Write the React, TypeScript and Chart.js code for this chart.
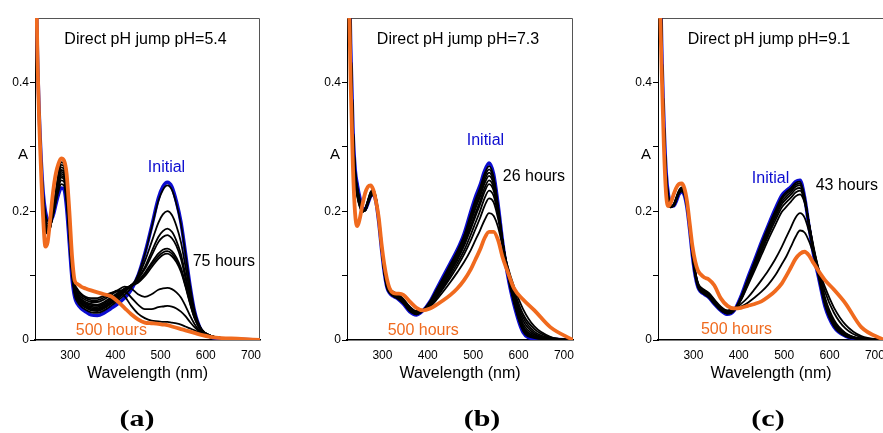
import React, { useEffect, useRef } from 'react';
import { Chart, registerables } from 'chart.js';

Chart.register(...registerables);

// ---------- data ----------
const WAVELENGTHS = [222, 226, 230, 235, 240, 245, 250, 256, 262, 268, 274, 280, 286, 292, 298, 304, 310, 316, 324, 334, 346, 360, 375, 390, 405, 420, 435, 450, 465, 480, 495, 505, 515, 525, 535, 545, 555, 565, 575, 590, 610, 635, 670, 720];
const X_TICKS = [300, 400, 500, 600, 700];
const Y_TICKS = [0, 0.1, 0.2, 0.3, 0.4];
const Y_TICK_LABELS = ['0', '', '0.2', '', '0.4'];

// panel (a) pH 5.4
const A_INITIAL = [0.8, 0.5, 0.38, 0.29, 0.23, 0.2, 0.187, 0.184, 0.193, 0.21, 0.226, 0.236, 0.234, 0.205, 0.15, 0.095, 0.066, 0.056, 0.049, 0.044, 0.039, 0.038, 0.042, 0.049, 0.056, 0.065, 0.078, 0.1, 0.134, 0.176, 0.22, 0.238, 0.245, 0.238, 0.215, 0.183, 0.135, 0.085, 0.045, 0.015, 0.005, 0.002, 0.001, 0];
const A_T1 = [0.8, 0.5, 0.38, 0.288, 0.227, 0.196, 0.185, 0.184, 0.194, 0.213, 0.231, 0.242, 0.24, 0.212, 0.156, 0.1, 0.069, 0.059, 0.052, 0.047, 0.043, 0.042, 0.046, 0.053, 0.061, 0.07, 0.081, 0.101, 0.133, 0.174, 0.216, 0.233, 0.24, 0.233, 0.211, 0.18, 0.134, 0.085, 0.046, 0.017, 0.006, 0.003, 0.001, 0];
const A_T2 = [0.8, 0.5, 0.38, 0.287, 0.224, 0.192, 0.181, 0.182, 0.195, 0.216, 0.236, 0.248, 0.246, 0.218, 0.161, 0.104, 0.072, 0.062, 0.055, 0.05, 0.046, 0.045, 0.049, 0.056, 0.064, 0.074, 0.084, 0.098, 0.122, 0.152, 0.182, 0.195, 0.2, 0.194, 0.177, 0.152, 0.114, 0.075, 0.042, 0.017, 0.007, 0.003, 0.001, 0];
const A_T3 = [0.8, 0.5, 0.38, 0.286, 0.222, 0.189, 0.178, 0.18, 0.195, 0.218, 0.24, 0.252, 0.25, 0.222, 0.164, 0.107, 0.074, 0.064, 0.057, 0.052, 0.048, 0.047, 0.051, 0.058, 0.066, 0.076, 0.085, 0.096, 0.113, 0.137, 0.16, 0.169, 0.173, 0.168, 0.154, 0.133, 0.101, 0.068, 0.04, 0.017, 0.007, 0.003, 0.001, 0];
const A_T4 = [0.8, 0.5, 0.38, 0.285, 0.221, 0.187, 0.176, 0.179, 0.196, 0.22, 0.243, 0.255, 0.253, 0.225, 0.166, 0.109, 0.076, 0.065, 0.058, 0.053, 0.05, 0.049, 0.053, 0.06, 0.068, 0.077, 0.085, 0.095, 0.11, 0.131, 0.152, 0.16, 0.163, 0.158, 0.146, 0.126, 0.096, 0.065, 0.039, 0.016, 0.007, 0.003, 0.001, 0];
const A_T5 = [0.8, 0.5, 0.38, 0.284, 0.219, 0.184, 0.174, 0.178, 0.196, 0.221, 0.245, 0.258, 0.256, 0.228, 0.169, 0.111, 0.078, 0.067, 0.06, 0.055, 0.052, 0.051, 0.055, 0.062, 0.07, 0.078, 0.085, 0.092, 0.104, 0.12, 0.134, 0.14, 0.142, 0.138, 0.128, 0.112, 0.087, 0.06, 0.036, 0.016, 0.007, 0.003, 0.001, 0];
const A_T6 = [0.8, 0.5, 0.38, 0.284, 0.218, 0.182, 0.172, 0.177, 0.197, 0.223, 0.248, 0.261, 0.259, 0.231, 0.172, 0.113, 0.08, 0.069, 0.062, 0.057, 0.054, 0.053, 0.057, 0.064, 0.071, 0.079, 0.085, 0.091, 0.102, 0.117, 0.13, 0.136, 0.138, 0.134, 0.124, 0.109, 0.085, 0.058, 0.035, 0.015, 0.007, 0.003, 0.001, 0];
const A_T7 = [0.8, 0.5, 0.38, 0.283, 0.216, 0.18, 0.17, 0.176, 0.197, 0.224, 0.25, 0.264, 0.262, 0.234, 0.175, 0.115, 0.082, 0.071, 0.064, 0.059, 0.056, 0.055, 0.059, 0.066, 0.073, 0.08, 0.084, 0.089, 0.099, 0.113, 0.126, 0.132, 0.134, 0.13, 0.121, 0.106, 0.083, 0.057, 0.034, 0.015, 0.007, 0.003, 0.001, 0];
const A_T8 = [0.8, 0.5, 0.38, 0.282, 0.214, 0.177, 0.168, 0.176, 0.198, 0.226, 0.253, 0.268, 0.266, 0.238, 0.179, 0.118, 0.084, 0.074, 0.067, 0.062, 0.059, 0.059, 0.063, 0.07, 0.077, 0.083, 0.08, 0.071, 0.067, 0.071, 0.078, 0.08, 0.081, 0.079, 0.074, 0.066, 0.053, 0.038, 0.025, 0.012, 0.006, 0.003, 0.001, 0];
const A_T9 = [0.8, 0.5, 0.38, 0.281, 0.212, 0.174, 0.166, 0.175, 0.199, 0.228, 0.256, 0.272, 0.27, 0.243, 0.184, 0.121, 0.086, 0.077, 0.07, 0.065, 0.062, 0.062, 0.066, 0.072, 0.077, 0.076, 0.066, 0.055, 0.048, 0.048, 0.051, 0.052, 0.053, 0.052, 0.049, 0.044, 0.037, 0.028, 0.02, 0.011, 0.006, 0.003, 0.001, 0];
const A_T10 = [0.8, 0.5, 0.38, 0.28, 0.21, 0.171, 0.165, 0.175, 0.2, 0.23, 0.259, 0.276, 0.274, 0.248, 0.188, 0.124, 0.088, 0.079, 0.072, 0.067, 0.065, 0.065, 0.069, 0.073, 0.075, 0.068, 0.053, 0.041, 0.034, 0.03, 0.029, 0.028, 0.028, 0.027, 0.026, 0.024, 0.021, 0.018, 0.015, 0.01, 0.006, 0.003, 0.001, 0];
const A_FINAL = [0.8, 0.5, 0.37, 0.27, 0.19, 0.145, 0.152, 0.19, 0.23, 0.258, 0.274, 0.282, 0.279, 0.258, 0.2, 0.13, 0.092, 0.087, 0.083, 0.08, 0.077, 0.074, 0.071, 0.068, 0.06, 0.05, 0.04, 0.032, 0.027, 0.026, 0.025, 0.024, 0.023, 0.021, 0.019, 0.017, 0.015, 0.013, 0.011, 0.008, 0.005, 0.003, 0.002, 0];

// panel (b) pH 7.3
const B_INITIAL = [0.8, 0.62, 0.46, 0.33, 0.265, 0.24, 0.222, 0.206, 0.203, 0.212, 0.223, 0.226, 0.214, 0.183, 0.142, 0.106, 0.082, 0.073, 0.068, 0.064, 0.056, 0.044, 0.039, 0.046, 0.06, 0.08, 0.1, 0.12, 0.14, 0.165, 0.2, 0.222, 0.24, 0.262, 0.275, 0.258, 0.21, 0.152, 0.105, 0.055, 0.012, 0.002, 0.001, 0];
const B_T1 = [0.8, 0.62, 0.46, 0.33, 0.263, 0.237, 0.219, 0.203, 0.201, 0.211, 0.222, 0.225, 0.213, 0.182, 0.141, 0.105, 0.081, 0.073, 0.068, 0.064, 0.057, 0.045, 0.04, 0.046, 0.06, 0.079, 0.098, 0.118, 0.138, 0.162, 0.196, 0.218, 0.236, 0.258, 0.27, 0.254, 0.208, 0.152, 0.106, 0.057, 0.014, 0.003, 0.001, 0];
const B_T2 = [0.8, 0.62, 0.46, 0.33, 0.262, 0.235, 0.217, 0.202, 0.201, 0.212, 0.223, 0.226, 0.214, 0.183, 0.142, 0.106, 0.082, 0.074, 0.069, 0.065, 0.058, 0.046, 0.04, 0.046, 0.059, 0.077, 0.096, 0.116, 0.136, 0.16, 0.192, 0.213, 0.231, 0.253, 0.265, 0.25, 0.206, 0.152, 0.107, 0.059, 0.016, 0.004, 0.001, 0];
const B_T3 = [0.8, 0.62, 0.46, 0.33, 0.26, 0.233, 0.215, 0.201, 0.201, 0.212, 0.224, 0.227, 0.215, 0.184, 0.142, 0.106, 0.082, 0.074, 0.069, 0.065, 0.058, 0.046, 0.041, 0.046, 0.058, 0.075, 0.094, 0.114, 0.134, 0.157, 0.188, 0.208, 0.226, 0.248, 0.26, 0.246, 0.204, 0.152, 0.108, 0.061, 0.018, 0.005, 0.001, 0];
const B_T4 = [0.8, 0.62, 0.46, 0.33, 0.258, 0.231, 0.213, 0.2, 0.201, 0.213, 0.225, 0.228, 0.216, 0.185, 0.143, 0.107, 0.083, 0.075, 0.07, 0.066, 0.059, 0.047, 0.041, 0.046, 0.057, 0.073, 0.092, 0.111, 0.131, 0.154, 0.184, 0.204, 0.222, 0.243, 0.255, 0.242, 0.202, 0.152, 0.109, 0.063, 0.021, 0.006, 0.001, 0];
const B_T5 = [0.8, 0.62, 0.46, 0.33, 0.256, 0.229, 0.212, 0.2, 0.202, 0.214, 0.226, 0.229, 0.217, 0.186, 0.144, 0.108, 0.084, 0.076, 0.071, 0.067, 0.06, 0.048, 0.042, 0.046, 0.056, 0.071, 0.089, 0.108, 0.127, 0.15, 0.178, 0.197, 0.215, 0.236, 0.248, 0.237, 0.2, 0.152, 0.11, 0.066, 0.025, 0.008, 0.002, 0];
const B_T6 = [0.8, 0.62, 0.46, 0.33, 0.254, 0.227, 0.21, 0.199, 0.202, 0.214, 0.227, 0.23, 0.218, 0.187, 0.145, 0.109, 0.085, 0.077, 0.072, 0.068, 0.061, 0.049, 0.042, 0.046, 0.055, 0.07, 0.087, 0.105, 0.124, 0.146, 0.173, 0.192, 0.21, 0.23, 0.242, 0.232, 0.198, 0.152, 0.112, 0.069, 0.03, 0.01, 0.002, 0];
const B_T7 = [0.8, 0.62, 0.46, 0.33, 0.252, 0.225, 0.209, 0.199, 0.203, 0.215, 0.228, 0.231, 0.219, 0.188, 0.146, 0.11, 0.086, 0.077, 0.073, 0.069, 0.062, 0.05, 0.043, 0.046, 0.054, 0.068, 0.084, 0.101, 0.119, 0.139, 0.164, 0.182, 0.2, 0.22, 0.232, 0.224, 0.194, 0.152, 0.114, 0.073, 0.035, 0.013, 0.003, 0];
const B_T8 = [0.8, 0.62, 0.46, 0.33, 0.25, 0.223, 0.208, 0.199, 0.203, 0.216, 0.229, 0.232, 0.22, 0.189, 0.147, 0.111, 0.087, 0.078, 0.074, 0.07, 0.063, 0.051, 0.044, 0.046, 0.053, 0.066, 0.081, 0.097, 0.114, 0.133, 0.155, 0.172, 0.189, 0.208, 0.22, 0.214, 0.188, 0.15, 0.116, 0.078, 0.04, 0.017, 0.004, 0];
const B_T9 = [0.8, 0.62, 0.46, 0.33, 0.248, 0.221, 0.207, 0.199, 0.204, 0.217, 0.23, 0.233, 0.221, 0.19, 0.148, 0.112, 0.088, 0.079, 0.075, 0.071, 0.064, 0.052, 0.045, 0.046, 0.052, 0.063, 0.076, 0.09, 0.105, 0.121, 0.14, 0.155, 0.17, 0.186, 0.197, 0.193, 0.175, 0.145, 0.117, 0.083, 0.048, 0.021, 0.005, 0];
const B_FINAL = [0.8, 0.55, 0.4, 0.27, 0.195, 0.177, 0.188, 0.21, 0.228, 0.238, 0.24, 0.233, 0.215, 0.19, 0.15, 0.118, 0.095, 0.08, 0.073, 0.072, 0.07, 0.06, 0.05, 0.046, 0.049, 0.055, 0.062, 0.07, 0.08, 0.093, 0.11, 0.125, 0.14, 0.158, 0.168, 0.168, 0.155, 0.128, 0.108, 0.08, 0.063, 0.046, 0.02, 0];

// panel (c) pH 9.1
const C_INITIAL = [0.8, 0.62, 0.46, 0.34, 0.26, 0.225, 0.21, 0.208, 0.215, 0.226, 0.23, 0.225, 0.205, 0.17, 0.13, 0.1, 0.082, 0.075, 0.071, 0.066, 0.056, 0.046, 0.04, 0.046, 0.068, 0.097, 0.124, 0.152, 0.178, 0.203, 0.225, 0.232, 0.238, 0.246, 0.248, 0.222, 0.175, 0.132, 0.1, 0.052, 0.02, 0.006, 0.001, 0];
const C_T1 = [0.8, 0.62, 0.46, 0.34, 0.258, 0.223, 0.209, 0.208, 0.216, 0.227, 0.231, 0.226, 0.206, 0.171, 0.131, 0.1, 0.082, 0.075, 0.071, 0.066, 0.056, 0.046, 0.041, 0.046, 0.067, 0.095, 0.122, 0.15, 0.176, 0.2, 0.222, 0.23, 0.236, 0.244, 0.246, 0.222, 0.177, 0.134, 0.101, 0.054, 0.021, 0.006, 0.001, 0];
const C_T2 = [0.8, 0.62, 0.46, 0.34, 0.256, 0.222, 0.208, 0.208, 0.217, 0.228, 0.232, 0.227, 0.207, 0.172, 0.132, 0.101, 0.083, 0.076, 0.072, 0.067, 0.057, 0.047, 0.041, 0.046, 0.066, 0.093, 0.12, 0.147, 0.173, 0.197, 0.219, 0.227, 0.233, 0.241, 0.243, 0.221, 0.178, 0.136, 0.103, 0.056, 0.022, 0.007, 0.001, 0];
const C_T3 = [0.8, 0.62, 0.46, 0.34, 0.254, 0.221, 0.208, 0.208, 0.217, 0.228, 0.233, 0.228, 0.208, 0.173, 0.133, 0.102, 0.084, 0.077, 0.073, 0.068, 0.058, 0.047, 0.042, 0.047, 0.065, 0.091, 0.118, 0.144, 0.17, 0.194, 0.215, 0.223, 0.23, 0.238, 0.24, 0.22, 0.179, 0.138, 0.105, 0.058, 0.024, 0.008, 0.001, 0];
const C_T4 = [0.8, 0.62, 0.46, 0.34, 0.252, 0.22, 0.207, 0.208, 0.218, 0.229, 0.234, 0.229, 0.209, 0.174, 0.134, 0.103, 0.085, 0.078, 0.074, 0.069, 0.059, 0.048, 0.042, 0.047, 0.064, 0.089, 0.115, 0.141, 0.166, 0.19, 0.211, 0.219, 0.226, 0.234, 0.236, 0.218, 0.18, 0.14, 0.107, 0.06, 0.026, 0.009, 0.002, 0];
const C_T5 = [0.8, 0.62, 0.46, 0.34, 0.25, 0.218, 0.207, 0.209, 0.219, 0.23, 0.235, 0.23, 0.21, 0.175, 0.135, 0.104, 0.086, 0.079, 0.075, 0.07, 0.06, 0.049, 0.043, 0.047, 0.063, 0.087, 0.112, 0.137, 0.162, 0.185, 0.206, 0.214, 0.221, 0.229, 0.232, 0.216, 0.18, 0.142, 0.109, 0.063, 0.028, 0.01, 0.002, 0];
const C_T6 = [0.8, 0.62, 0.46, 0.34, 0.248, 0.217, 0.207, 0.209, 0.219, 0.23, 0.235, 0.23, 0.21, 0.176, 0.136, 0.105, 0.087, 0.08, 0.076, 0.071, 0.061, 0.05, 0.044, 0.047, 0.062, 0.085, 0.108, 0.132, 0.156, 0.178, 0.199, 0.207, 0.215, 0.223, 0.226, 0.213, 0.18, 0.144, 0.111, 0.066, 0.031, 0.011, 0.002, 0];
const C_T7 = [0.8, 0.62, 0.46, 0.34, 0.246, 0.215, 0.206, 0.209, 0.22, 0.231, 0.236, 0.231, 0.211, 0.177, 0.137, 0.106, 0.088, 0.081, 0.077, 0.072, 0.062, 0.051, 0.045, 0.048, 0.056, 0.066, 0.079, 0.093, 0.108, 0.125, 0.145, 0.16, 0.175, 0.19, 0.197, 0.19, 0.168, 0.14, 0.113, 0.075, 0.042, 0.018, 0.004, 0];
const C_T8 = [0.8, 0.62, 0.46, 0.34, 0.244, 0.213, 0.206, 0.21, 0.221, 0.232, 0.237, 0.232, 0.212, 0.178, 0.138, 0.107, 0.089, 0.082, 0.078, 0.073, 0.063, 0.052, 0.046, 0.049, 0.052, 0.058, 0.066, 0.075, 0.086, 0.1, 0.118, 0.13, 0.145, 0.16, 0.17, 0.167, 0.153, 0.133, 0.112, 0.082, 0.05, 0.024, 0.006, 0];
const C_FINAL = [0.8, 0.55, 0.42, 0.3, 0.225, 0.208, 0.213, 0.225, 0.236, 0.242, 0.243, 0.236, 0.215, 0.18, 0.145, 0.122, 0.108, 0.102, 0.097, 0.094, 0.085, 0.065, 0.053, 0.049, 0.05, 0.053, 0.056, 0.06, 0.067, 0.076, 0.088, 0.1, 0.113, 0.126, 0.134, 0.137, 0.131, 0.119, 0.108, 0.093, 0.078, 0.057, 0.02, 0];

// ---------- styling ----------
const BLUE = '#0c0cd0';
const ORANGE = '#f06a1e';
const FONT = '"Liberation Sans", Arial, Helvetica, sans-serif';

type Label = { text: string; x: number; y: number; color: string };
type PanelCfg = {
  id: string;
  left: number;
  axisWidth: number;
  padRight: number;
  title: string;
  initial: number[];
  mids: number[][];
  final: number[];
  labels: Label[];
  tag: string;
  tagX: number;
};

const PANELS: PanelCfg[] = [
  {
    id: 'a', left: 0, axisWidth: 35, padRight: 40,
    title: 'Direct pH jump pH=5.4',
    initial: A_INITIAL,
    mids: [A_T1, A_T2, A_T3, A_T4, A_T5, A_T6, A_T7, A_T8, A_T9, A_T10],
    final: A_FINAL,
    labels: [
      { text: 'Initial', x: 513, y: 0.267, color: BLUE },
      { text: '75 hours', x: 640, y: 0.121, color: '#000' },
      { text: '500 hours', x: 391, y: 0.014, color: ORANGE },
    ],
    tag: '(a)', tagX: 137,
  },
  {
    id: 'b', left: 300, axisWidth: 47, padRight: 27,
    title: 'Direct pH jump pH=7.3',
    initial: B_INITIAL,
    mids: [B_T1, B_T2, B_T3, B_T4, B_T5, B_T6, B_T7, B_T8, B_T9],
    final: B_FINAL,
    labels: [
      { text: 'Initial', x: 527, y: 0.31, color: BLUE },
      { text: '26 hours', x: 634, y: 0.254, color: '#000' },
      { text: '500 hours', x: 390, y: 0.014, color: ORANGE },
    ],
    tag: '(b)', tagX: 482,
  },
  {
    id: 'c', left: 600, axisWidth: 58, padRight: 16,
    title: 'Direct pH jump pH=9.1',
    initial: C_INITIAL,
    mids: [C_T1, C_T2, C_T3, C_T4, C_T5, C_T6, C_T7, C_T8],
    final: C_FINAL,
    labels: [
      { text: 'Initial', x: 470, y: 0.25, color: BLUE },
      { text: '43 hours', x: 638, y: 0.24, color: '#000' },
      { text: '500 hours', x: 395, y: 0.0155, color: ORANGE },
    ],
    tag: '(c)', tagX: 768,
  },
];

const CANVAS_W = 300;
const CANVAS_H = 433;

function makeOverlay(cfg: PanelCfg) {
  return {
    id: 'overlay_' + cfg.id,
    beforeDatasetsDraw(chart: any) {
      const { ctx, chartArea: ca } = chart;
      ctx.save();
      ctx.strokeStyle = '#555';
      ctx.lineWidth = 1;
      ctx.beginPath();
      ctx.moveTo(ca.left, ca.top + 0.5);
      ctx.lineTo(ca.right - 0.5, ca.top + 0.5);
      ctx.lineTo(ca.right - 0.5, ca.bottom);
      ctx.stroke();
      ctx.restore();
    },
    afterDatasetsDraw(chart: any) {
      const { ctx, chartArea: ca, scales } = chart;
      ctx.save();
      ctx.textAlign = 'center';
      ctx.textBaseline = 'middle';
      ctx.fillStyle = '#000';
      ctx.font = `16px ${FONT}`;
      ctx.fillText(cfg.title, (ca.left + ca.right) / 2 - 2, ca.top + 22);
      ctx.font = `15px ${FONT}`;
      ctx.fillText('A', ca.left - 12, scales.y.getPixelForValue(0.3) + 8);
      ctx.font = `16px ${FONT}`;
      for (const l of cfg.labels) {
        ctx.fillStyle = l.color;
        ctx.fillText(l.text, scales.x.getPixelForValue(l.x), scales.y.getPixelForValue(l.y));
      }
      ctx.restore();
    },
  };
}

function Panel({ cfg }: { cfg: PanelCfg }) {
  const ref = useRef<HTMLCanvasElement>(null);
  useEffect(() => {
    if (!ref.current) return;
    const toPoints = (arr: number[]) => arr.map((y, i) => ({ x: WAVELENGTHS[i], y }));
    const base = { pointRadius: 0, fill: false, cubicInterpolationMode: 'monotone' as const };
    const datasets: any[] = [
      { ...base, data: toPoints(cfg.final), borderColor: ORANGE, borderWidth: 3.8 },
      ...cfg.mids.map((m) => ({ ...base, data: toPoints(m), borderColor: '#000', borderWidth: 1.8 })),
      { ...base, data: toPoints(cfg.initial), borderColor: BLUE, borderWidth: 3.5 },
    ];
    const chart = new Chart(ref.current, {
      type: 'line',
      data: { datasets },
      options: {
        responsive: false,
        animation: false,
        events: [],
        layout: { padding: { top: 18, right: cfg.padRight, left: 0, bottom: 0 } },
        plugins: { legend: { display: false }, tooltip: { enabled: false }, title: { display: false } },
        scales: {
          x: {
            type: 'linear',
            min: 222,
            max: 720,
            afterBuildTicks: (s: any) => { s.ticks = X_TICKS.map((v) => ({ value: v })); },
            afterFit: (s: any) => { s.height = CANVAS_H - 340; },
            grid: { display: true, drawOnChartArea: false, drawTicks: false },
            border: { color: '#000', width: 1.5 },
            ticks: { padding: 8, color: '#000', autoSkip: false, maxRotation: 0, font: { family: FONT, size: 12 } },
            title: {
              display: true,
              text: 'Wavelength (nm)',
              color: '#000',
              font: { family: FONT, size: 16 },
              padding: { top: 4, bottom: 50 },
            },
          },
          y: {
            type: 'linear',
            min: 0,
            max: 0.5,
            afterBuildTicks: (s: any) => { s.ticks = Y_TICKS.map((v) => ({ value: v })); },
            afterFit: (s: any) => { s.width = cfg.axisWidth; },
            grid: { display: true, drawOnChartArea: false, drawTicks: true, tickLength: 5, color: '#000' },
            border: { color: '#000', width: 1 },
            ticks: {
              padding: 1,
              color: '#000',
              font: { family: FONT, size: 12 },
              callback: (_v: any, i: number) => Y_TICK_LABELS[i] ?? '',
            },
          },
        },
      },
      plugins: [makeOverlay(cfg)],
    });
    return () => chart.destroy();
  }, [cfg]);

  return (
    <canvas
      ref={ref}
      width={CANVAS_W}
      height={CANVAS_H}
      style={{ position: 'absolute', left: cfg.left, top: 0, width: CANVAS_W, height: CANVAS_H }}
    />
  );
}

export default function App() {
  return (
    <div
      style={{
        position: 'fixed',
        left: 0,
        top: 0,
        width: 883,
        height: 433,
        overflow: 'hidden',
        background: '#fff',
      }}
    >
      {PANELS.map((p) => (
        <Panel key={p.id} cfg={p} />
      ))}
      {PANELS.map((p) => (
        <div
          key={p.id + '-tag'}
          style={{
            position: 'absolute',
            left: p.tagX - 40,
            top: 403,
            width: 80,
            textAlign: 'center',
            fontFamily: '"Liberation Serif", "Times New Roman", serif',
            fontWeight: 'bold',
            fontSize: 24,
            lineHeight: '30px',
            transform: 'scaleX(1.25)',
            color: '#000',
          }}
        >
          {p.tag}
        </div>
      ))}
    </div>
  );
}
